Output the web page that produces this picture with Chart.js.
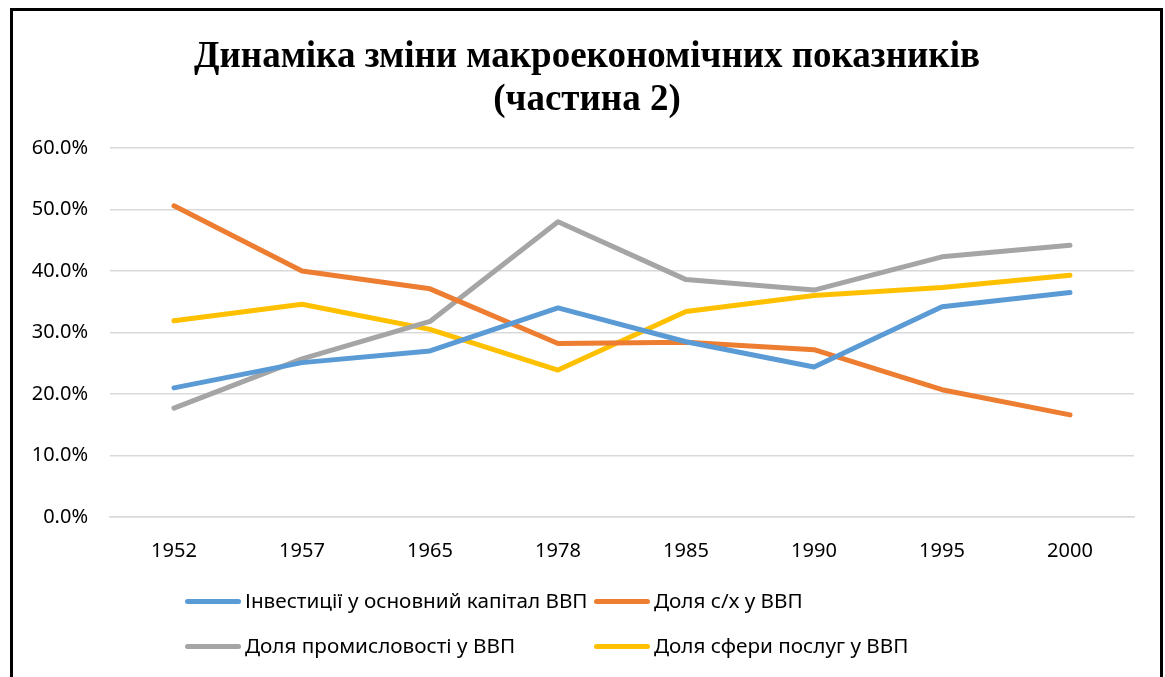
<!DOCTYPE html>
<html>
<head>
<meta charset="utf-8">
<script src="https://cdn.jsdelivr.net/npm/chart.js@4.4.1/dist/chart.umd.min.js"></script>
<style>
  html, body { margin:0; padding:0; background:#fff; width:1165px; height:677px; overflow:hidden; }
  #frame { position:absolute; left:10px; top:8px; width:1147px; height:800px; border:3px solid #000; box-sizing:content-box; }
  #wrap { position:absolute; left:0; top:0; width:1165px; height:677px; }
  .leg { position:absolute; font-family:"Noto Sans", sans-serif; font-size:20.7px; color:#000; white-space:nowrap; line-height:22px; }
  .leg .ln { position:absolute; left:0; top:8px; width:56px; height:5px; border-radius:3px; }
  .leg .tx { position:absolute; left:60px; top:-2px; }
</style>
</head>
<body>
<div id="frame"></div>
<div id="wrap"><canvas id="c" width="1165" height="677"></canvas></div>
<div id="legend"></div>
<script>
const years = ['1952','1957','1965','1978','1985','1990','1995','2000'];
const invest   = [21.0, 25.1, 27.0, 34.0, 28.5, 24.4, 34.2, 36.5];
const agri     = [50.6, 40.0, 37.1, 28.2, 28.4, 27.2, 20.7, 16.6];
const industry = [17.7, 25.7, 31.8, 48.0, 38.6, 36.9, 42.3, 44.2];
const services = [31.9, 34.6, 30.5, 23.9, 33.4, 36.0, 37.3, 39.3];
const yTicks = [0, 10, 20, 30, 40, 50, 60];
const seriesNames = ['Інвестиції у основний капітал ВВП', 'Доля с/х у ВВП', 'Доля промисловості у ВВП', 'Доля сфери послуг у ВВП'];
const seriesColors = ['#5B9BD5', '#ED7D31', '#A5A5A5', '#FFC000'];
const titleLines = ['Динаміка зміни макроекономічних показників', '(частина 2)'];

const allSeries = [invest, agri, industry, services];
const datasets = allSeries.map((d, i) => ({
  label: seriesNames[i],
  data: d,
  borderColor: seriesColors[i],
  backgroundColor: seriesColors[i],
  borderWidth: 5,
  borderCapStyle: 'round',
  borderJoinStyle: 'round',
  pointRadius: 0,
  pointHoverRadius: 0,
  tension: 0,
  fill: false,
  yAxisID: 'y'
}));

new Chart(document.getElementById('c'), {
  type: 'line',
  data: { labels: years, datasets },
  options: {
    responsive: false,
    animation: false,
    events: [],
    layout: { padding: { left: 9, right: 0, top: 0, bottom: 100 } },
    plugins: {
      legend: { display: false },
      tooltip: { enabled: false },
      title: {
        display: true,
        text: titleLines,
        color: '#000',
        font: { family: '"Liberation Serif", "Times New Roman", serif', size: 37, weight: 'bold', lineHeight: 1.162 },
        padding: { top: 36, bottom: 26 }
      }
    },
    scales: {
      x: {
        offset: true,
        grid: { display: false, drawTicks: false },
        border: { display: true, color: '#D9D9D9', width: 1.5 },
        ticks: { color: '#000', padding: 22, font: { family: '"Noto Sans", sans-serif', size: 20 } },
        afterFit: s => { s.height = 60; }
      },
      y: {
        min: 0, max: 60,
        afterBuildTicks: s => { s.ticks = yTicks.map(v => ({ value: v })); },
        grid: { color: '#D9D9D9', lineWidth: 1.5, drawTicks: false },
        border: { display: false },
        ticks: { color: '#000', padding: 22, font: { family: '"Noto Sans", sans-serif', size: 20 },
                 callback: v => Number(v).toFixed(1) + '%' },
        afterFit: s => { s.width = 101; }
      },
      yRight: {
        position: 'right',
        display: true,
        min: 0, max: 60,
        grid: { display: false, drawTicks: false },
        border: { display: false },
        ticks: { display: false },
        afterFit: s => { s.width = 31; }
      }
    }
  }
});

// Legend (two columns)
const legPos = [[185, 591], [594, 591], [185, 636], [594, 636]];
const legEl = document.getElementById('legend');
seriesNames.forEach((n, i) => {
  const d = document.createElement('div');
  d.className = 'leg';
  d.style.left = legPos[i][0] + 'px';
  d.style.top = legPos[i][1] + 'px';
  d.innerHTML = '<div class="ln" style="background:' + seriesColors[i] + '"></div><span class="tx"></span>';
  d.querySelector('.tx').textContent = n;
  legEl.appendChild(d);
});
</script>
</body>
</html>
